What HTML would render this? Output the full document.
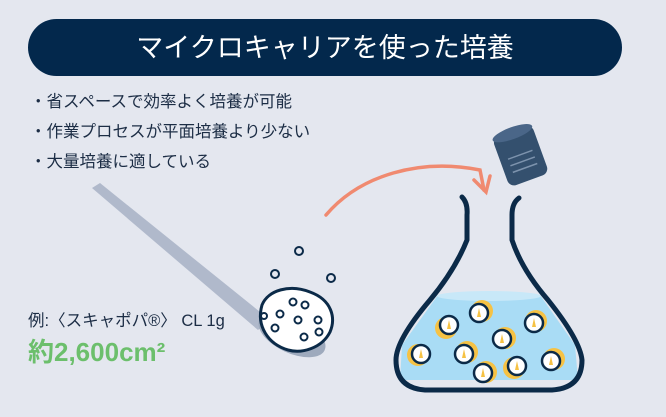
<!DOCTYPE html>
<html><head><meta charset="utf-8"><style>
body{margin:0;background:#e4e7ef;}
svg{display:block}
text{font-family:"Liberation Sans","Noto Sans CJK JP",sans-serif;}
</style></head><body>
<svg width="666" height="417" viewBox="0 0 666 417" xmlns="http://www.w3.org/2000/svg">
<defs>
<clipPath id="fl"><path d="M462 197 Q468 203 467 215 L467 240 Q455 270 430 300 Q396 340 396 360 Q396 386 425 388 L552 388 Q580 386 580 360 Q580 340 548 300 Q522 270 512 240 L512 215 Q512 203 519 198 Z"/></clipPath>
</defs>
<rect width="666" height="417" fill="#e4e7ef"/>
<rect x="28" y="19" width="594" height="57" rx="28.5" fill="#03284c"/>
<text x="325" y="57" font-size="27" fill="#fff" text-anchor="middle">マイクロキャリアを使った培養</text>
<g font-size="16.5" fill="#1c2d45">
<text x="30" y="107">・省スペースで効率よく培養が可能</text>
<text x="30" y="137">・作業プロセスが平面培養より少ない</text>
<text x="30" y="167">・大量培養に適している</text>
</g>
<!-- spoon -->
<path d="M92 188 L100 183 L270 320 L258 330 Z" fill="#b0b9cb"/>
<ellipse cx="292" cy="335" rx="36" ry="18" transform="rotate(25 292 335)" fill="#9eaabd"/>
<path d="M262 305 C268 290 290 284 310 292 C332 300 336 318 330 332 C322 348 302 354 288 350 C268 344 256 326 262 305 Z" fill="#fff" stroke="#0b2a48" stroke-width="3"/>
<g fill="none" stroke="#0b2a48" stroke-width="2">
<circle cx="293" cy="302" r="3.5"/><circle cx="305" cy="305" r="3.5"/><circle cx="280" cy="314" r="3.5"/><circle cx="298" cy="320" r="3.5"/><circle cx="318" cy="320" r="3.5"/><circle cx="275" cy="328" r="3.5"/><circle cx="304" cy="337" r="3.5"/><circle cx="319" cy="332" r="3.5"/><circle cx="264" cy="316" r="3"/>
<circle cx="299" cy="251" r="4"/><circle cx="275" cy="274" r="4"/><circle cx="331" cy="278" r="4"/>
</g>
<text x="28" y="326" font-size="16.5" fill="#1c2d45">例:〈スキャポパ®〉 CL 1g</text>
<text x="28" y="361" font-size="26" font-weight="bold" fill="#6cbf6c">約2,600cm²</text>
<!-- arrow -->
<path d="M326 215 C360 175 420 158 480 170 L484 190" fill="none" stroke="#f08a70" stroke-width="3.5" stroke-linecap="round"/>
<path d="M474 180 L486 192 L490 176" fill="none" stroke="#f08a70" stroke-width="3.5" stroke-linecap="round"/>
<!-- cap -->
<g transform="rotate(-20 520 157)">
<rect x="500" y="130" width="42" height="52" rx="7" fill="#34506e"/>
<ellipse cx="521" cy="132" rx="21" ry="6" fill="#4a6688"/>
<g stroke="#7d93ad" stroke-width="1.5"><line x1="508" y1="155" x2="534" y2="155"/><line x1="508" y1="162" x2="534" y2="162"/><line x1="508" y1="169" x2="534" y2="169"/></g>
</g>
<!-- flask liquid -->
<g clip-path="url(#fl)">
<path d="M438 295 L540 295 L575 345 L578 380 L400 380 L402 345 Z" fill="#a9dcf5"/>
<ellipse cx="489" cy="296" rx="52" ry="5" fill="#c8e8f8"/>
</g>
<path d="M462 197 Q468 203 467 215 L467 240 Q455 270 430 300 Q396 340 396 360 Q396 388 425 390 L552 390 Q582 388 582 360 Q580 340 548 300 Q522 270 512 240 L512 215 Q512 203 519 198" fill="none" stroke="#0b2a48" stroke-width="5" stroke-linecap="round" stroke-linejoin="round"/>
<g fill="#f6c244">
<circle cx="482" cy="311" r="11"/><circle cx="446" cy="328" r="11"/><circle cx="536" cy="321" r="11"/><circle cx="505" cy="338" r="11"/><circle cx="418" cy="355" r="11"/><circle cx="467" cy="352" r="11"/><circle cx="486" cy="372" r="11"/><circle cx="514" cy="368" r="11"/><circle cx="554" cy="359" r="11"/>
</g>
<g stroke="#0b2a48" stroke-width="2.5" fill="#fff">
<circle cx="479" cy="313" r="9"/><circle cx="449" cy="325" r="9"/><circle cx="534" cy="323" r="9"/><circle cx="502" cy="339" r="9"/><circle cx="421" cy="354" r="9"/><circle cx="464" cy="354" r="9"/><circle cx="483" cy="373" r="9"/><circle cx="517" cy="366" r="9"/><circle cx="551" cy="361" r="9"/>
</g>
<g fill="#f6c244">
<path d="M479 308 l2 9 l-4 0 z"/><path d="M449 320 l2 9 l-4 0 z"/><path d="M534 318 l2 9 l-4 0 z"/><path d="M502 334 l2 9 l-4 0 z"/><path d="M421 349 l2 9 l-4 0 z"/><path d="M464 349 l2 9 l-4 0 z"/><path d="M483 368 l2 9 l-4 0 z"/><path d="M517 361 l2 9 l-4 0 z"/><path d="M551 356 l2 9 l-4 0 z"/>
</g>
</svg>
</body></html>
